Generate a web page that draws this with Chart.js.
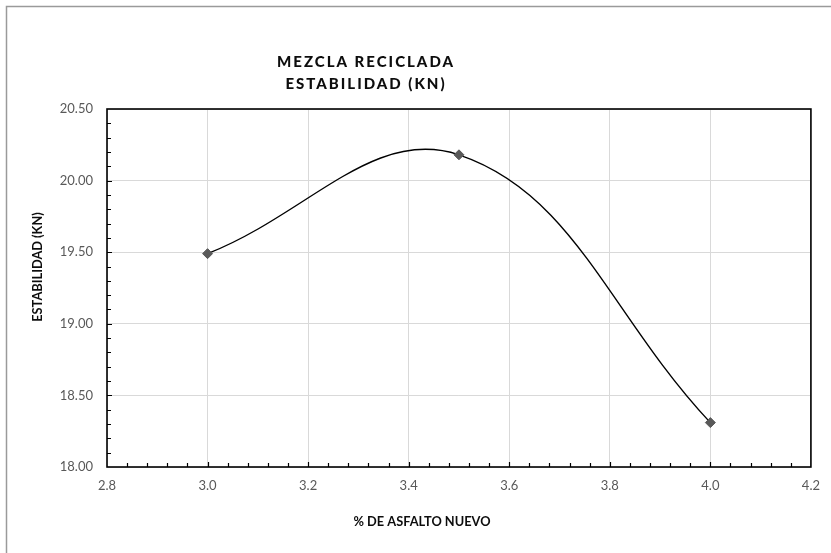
<!DOCTYPE html>
<html>
<head>
<meta charset="utf-8">
<script src="https://cdn.jsdelivr.net/npm/chart.js@4/dist/chart.umd.min.js"></script>
<style>
  html, body { margin: 0; padding: 0; background: #fff; }
  canvas { display: block; }
</style>
</head>
<body>
<canvas id="c" width="831" height="553"></canvas>
<script>
// % of new asphalt and measured stability (kN)
const asphaltPct = [3.0, 3.5, 4.0];
const stabilityKN = [19.49, 20.18, 18.31];

const titleLines = ['MEZCLA RECICLADA', 'ESTABILIDAD (KN)'];
const xAxisTitle = '% DE ASFALTO NUEVO';
const yAxisTitle = 'ESTABILIDAD (KN)';

const xRange = { min: 2.8, max: 4.2, step: 0.2, minor: 0.04 };
const yRange = { min: 18.0, max: 20.5, step: 0.5, minor: 0.1 };

const FONT = 'Lato, "Open Sans", sans-serif';

// Frame, inward tick marks and text drawn around the plot
const decorations = {
  id: 'decorations',
  afterDraw(chart) {
    const { ctx, chartArea: a, scales } = chart;
    const xs = scales.x, ys = scales.y;
    ctx.save();

    // outer chart border (top and left edges)
    ctx.strokeStyle = '#9a9a9a';
    ctx.lineWidth = 1.5;
    ctx.beginPath();
    ctx.moveTo(6.5, 553);
    ctx.lineTo(6.5, 6.5);
    ctx.lineTo(831, 6.5);
    ctx.stroke();

    // plot frame
    ctx.strokeStyle = '#000';
    ctx.lineWidth = 1.6;
    ctx.strokeRect(a.left, a.top, a.right - a.left, a.bottom - a.top);

    // inward tick marks along the bottom axis
    ctx.lineWidth = 1.2;
    ctx.beginPath();
    const nx = Math.round((xRange.max - xRange.min) / xRange.minor);
    for (let i = 1; i < nx; i++) {
      const v = xRange.min + i * xRange.minor;
      const px = Math.round(xs.getPixelForValue(v)) + 0.5;
      const major = i % 5 === 0;
      ctx.moveTo(px, a.bottom);
      ctx.lineTo(px, a.bottom - (major ? 5 : 4));
    }
    // inward tick marks along the left axis
    const ny = Math.round((yRange.max - yRange.min) / yRange.minor);
    for (let i = 1; i < ny; i++) {
      const v = yRange.min + i * yRange.minor;
      const py = Math.round(ys.getPixelForValue(v)) + 0.5;
      const major = i % 5 === 0;
      ctx.moveTo(a.left, py);
      ctx.lineTo(a.left + (major ? 5 : 4), py);
    }
    ctx.stroke();

    // chart title
    ctx.fillStyle = '#0d0d0d';
    ctx.textAlign = 'center';
    ctx.textBaseline = 'middle';
    ctx.font = '900 15px ' + FONT;
    if ('letterSpacing' in ctx) ctx.letterSpacing = '2px';
    ctx.fillText(titleLines[0], 366, 62);
    ctx.fillText(titleLines[1], 366, 84);
    if ('letterSpacing' in ctx) ctx.letterSpacing = '0px';

    // axis titles
    ctx.font = 'bold 12.8px ' + FONT;
    ctx.fillText(xAxisTitle, 422, 522);
    ctx.translate(38, 267);
    ctx.rotate(-Math.PI / 2);
    ctx.fillText(yAxisTitle, 0, 0);

    ctx.restore();
  }
};

new Chart(document.getElementById('c'), {
  type: 'scatter',
  data: {
    datasets: [{
      data: asphaltPct.map((x, i) => ({ x, y: stabilityKN[i] })),
      showLine: true,
      tension: 0.4,
      borderColor: '#000',
      borderWidth: 1.4,
      pointStyle: 'rectRot',
      pointRadius: 5,
      pointHoverRadius: 5,
      pointBackgroundColor: '#595959',
      pointBorderColor: '#595959',
      pointBorderWidth: 1
    }]
  },
  options: {
    responsive: false,
    animation: false,
    events: [],
    layout: { padding: { left: 0, top: 109, right: 17, bottom: 0 } },
    plugins: { legend: { display: false }, tooltip: { enabled: false }, title: { display: false } },
    scales: {
      x: {
        type: 'linear',
        min: xRange.min, max: xRange.max,
        afterFit(s) { s.height = 86; },
        ticks: {
          stepSize: xRange.step,
          padding: 11,
          color: '#595959',
          font: { family: FONT, size: 13 },
          callback: v => Number(v).toFixed(1)
        },
        grid: { color: '#d9d9d9', lineWidth: 1, drawTicks: false },
        border: { display: false }
      },
      y: {
        type: 'linear',
        min: yRange.min, max: yRange.max,
        afterFit(s) { s.width = 107; },
        ticks: {
          stepSize: yRange.step,
          padding: 14,
          color: '#595959',
          font: { family: FONT, size: 13 },
          callback: v => Number(v).toFixed(2)
        },
        grid: { color: '#d9d9d9', lineWidth: 1, drawTicks: false },
        border: { display: false }
      }
    }
  },
  plugins: [decorations]
});
</script>
</body>
</html>
